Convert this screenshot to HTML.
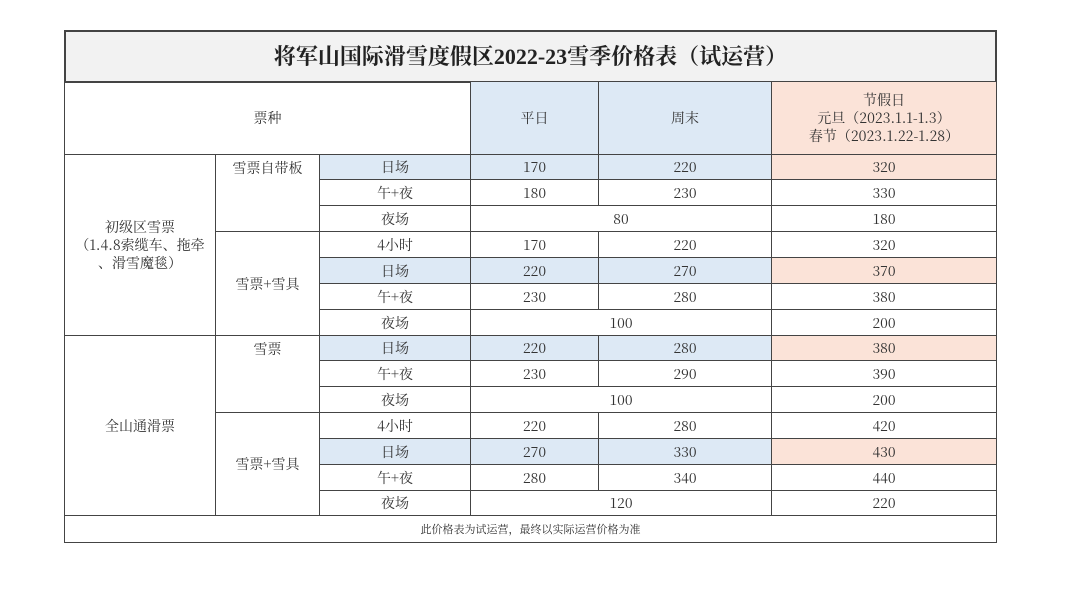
<!DOCTYPE html><html><head><meta charset="utf-8"><style>
body{margin:0;width:1080px;height:593px;background:#fff;position:relative;overflow:hidden;font-family:"Noto Serif CJK SC","Liberation Serif",serif;color:#333;font-size:14px}
.c{position:absolute;box-sizing:border-box;border:1px solid #444;display:flex;align-items:center;justify-content:center;text-align:center;line-height:18px;margin:-1px 0 0 -1px}
.b{background:#dde9f5}.p{background:#fbe3d8}
.t{align-items:flex-start;padding-top:4px}
</style></head><body>
<div class="c" style="left:65px;top:31px;width:933px;height:53px;background:#f2f2f2;border-width:2px;font-size:22px;font-weight:bold;color:#222;font-family:'Liberation Serif','Noto Serif CJK SC',serif">将军山国际滑雪度假区2022-23雪季价格表（试运营）</div>
<div class="c" style="left:65px;top:82px;width:407px;height:74px">票种</div>
<div class="c b" style="left:471px;top:82px;width:129px;height:74px">平日</div>
<div class="c b" style="left:599px;top:82px;width:174px;height:74px">周末</div>
<div class="c p" style="left:772px;top:82px;width:226px;height:74px">节假日<br>元旦（2023.1.1-1.3）<br>春节（2023.1.22-1.28）</div>
<div class="c" style="left:65px;top:155px;width:152px;height:182px">初级区雪票<br>（1.4.8索缆车、拖牵<br>、滑雪魔毯）</div>
<div class="c" style="left:65px;top:336px;width:152px;height:181px">全山通滑票</div>
<div class="c t" style="left:216px;top:155px;width:105px;height:78px">雪票自带板</div>
<div class="c" style="left:216px;top:232px;width:105px;height:105px">雪票+雪具</div>
<div class="c t" style="left:216px;top:336px;width:105px;height:78px">雪票</div>
<div class="c" style="left:216px;top:413px;width:105px;height:104px">雪票+雪具</div>
<div id="r"></div>
<div class="c" style="left:65px;top:516px;width:933px;height:28px;font-size:11px">此价格表为试运营，最终以实际运营价格为准</div>
<script>
var ys=[155,180,206,232,258,284,310,336,361,387,413,439,465,491,516];
var d=[["日场",170,220,320,1],["午+夜",180,230,330],["夜场",80,null,180],["4小时",170,220,320],["日场",220,270,370,1],["午+夜",230,280,380],["夜场",100,null,200],["日场",220,280,380,1],["午+夜",230,290,390],["夜场",100,null,200],["4小时",220,280,420],["日场",270,330,430,1],["午+夜",280,340,440],["夜场",120,null,220]];
var h="";
function cell(x,y,w,hh,cls,t){h+='<div class="c '+cls+'" style="left:'+x+'px;top:'+y+'px;width:'+w+'px;height:'+hh+'px">'+t+'</div>';}
d.forEach(function(r,i){var y=ys[i],hh=ys[i+1]-y+1,b=r[4]?"b":"",p=r[4]?"p":"";
cell(320,y,152,hh,b,r[0]);
if(r[2]===null)cell(471,y,302,hh,b,r[1]);else{cell(471,y,129,hh,b,r[1]);cell(599,y,174,hh,b,r[2]);}
cell(772,y,226,hh,p,r[3]);});
document.getElementById("r").outerHTML=h;
</script>
</body></html>
